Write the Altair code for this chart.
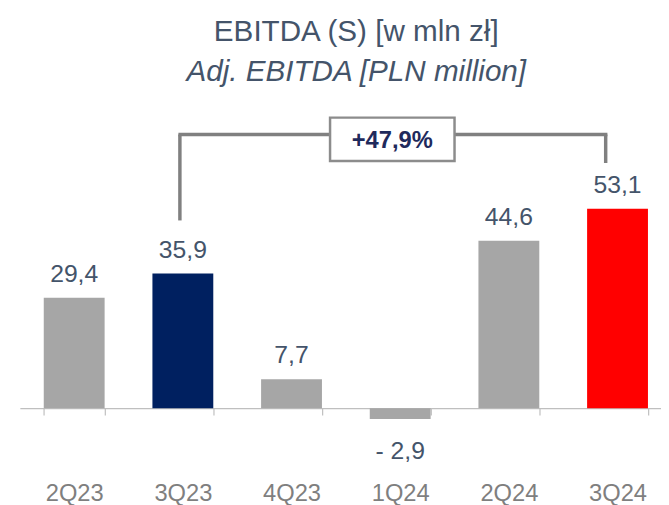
import altair as alt
import pandas as pd

# ---- data ----
categories = ["2Q23", "3Q23", "4Q23", "1Q24", "2Q24", "3Q24"]
values = [29.4, 35.9, 7.7, -2.9, 44.6, 53.1]
labels = ["29,4", "35,9", "7,7", "- 2,9", "44,6", "53,1"]
colors = ["#A6A6A6", "#002060", "#A6A6A6", "#A6A6A6", "#A6A6A6", "#FF0000"]

# growth bracket 3Q23 -> 3Q24
bracket_from = "3Q23"
bracket_to = "3Q24"
bracket_mid = "1Q24"
bracket_label = "+47,9%"
bracket_top = 72.9
bracket_left_end = 50.0
bracket_right_end = 65.3
box_level = 71.6

df = pd.DataFrame({"q": categories, "v": values, "lab": labels, "col": colors})
df_pos = df[df.v >= 0]
df_neg = df[df.v < 0]

FONT = "Liberation Sans"
TXT = "#44546A"

x_scale = alt.Scale(domain=categories, paddingInner=0.44, paddingOuter=0.17, align=0.647)
y_scale = alt.Scale(domain=[0, 81.58], nice=False, zero=False)

x_enc = alt.X("q:N", scale=x_scale, sort=categories,
              axis=alt.Axis(title=None, labelAngle=0, labelFontSize=24, labelFont=FONT,
                            labelColor="#7F7F7F", domainColor="#BFBFBF", domainWidth=1.2,
                            tickColor="#BFBFBF", tickWidth=1.2, tickSize=7, tickBand="extent",
                            labelBaseline="alphabetic", labelPadding=87))
y_enc = alt.Y("v:Q", scale=y_scale, axis=None)

base = alt.Chart(df)

bars = base.mark_bar().encode(x=x_enc, y=y_enc, y2=alt.datum(0),
                              color=alt.Color("col:N", scale=None))

lab_pos = alt.Chart(df_pos).mark_text(font=FONT, fontSize=25, color=TXT,
                                      baseline="alphabetic", dy=-16).encode(
    x=alt.X("q:N", scale=x_scale, sort=categories), y=y_enc, text="lab:N")
lab_neg = alt.Chart(df_neg).mark_text(font=FONT, fontSize=25, color=TXT,
                                      baseline="alphabetic", dy=40).encode(
    x=alt.X("q:N", scale=x_scale, sort=categories), y=y_enc, text="lab:N")

bdf = pd.DataFrame({"a": [bracket_from], "b": [bracket_to], "mid": [bracket_mid],
                    "top": [bracket_top], "le": [bracket_left_end], "re": [bracket_right_end],
                    "box": [box_level], "lab": [bracket_label]})
bc = alt.Chart(bdf)
LINE = "#808080"
xa = alt.X("a:N", scale=x_scale)
left_v = bc.mark_rule(color=LINE, strokeWidth=3.5, xOffset=-3).encode(
    x=xa, y=alt.Y("le:Q", scale=y_scale), y2="top:Q")
horiz = bc.mark_rule(color=LINE, strokeWidth=3.5, xOffset=-4.5, x2Offset=-10.25).encode(
    x=xa, x2=alt.X2("b:N"), y=alt.Y("top:Q", scale=y_scale))
right_v = bc.mark_rule(color=LINE, strokeWidth=3.5, xOffset=-12).encode(
    x=alt.X("b:N", scale=x_scale), y=alt.Y("re:Q", scale=y_scale), y2="top:Q")
box = bc.mark_point(shape="M-1,-0.349L1,-0.349L1,0.349L-1,0.349Z", size=15876, filled=False,
                    fill="white", fillOpacity=1, stroke="#8C8C8C", strokeWidth=2.5,
                    opacity=1, xOffset=-8).encode(
    x=alt.X("mid:N", scale=x_scale), y=alt.Y("box:Q", scale=y_scale))
box_txt = bc.mark_text(font=FONT, fontSize=24, fontWeight="bold", color="#1F2A5C",
                       baseline="middle", xOffset=-8, dy=2).encode(
    x=alt.X("mid:N", scale=x_scale), y=alt.Y("box:Q", scale=y_scale), text="lab:N")

chart = alt.layer(bars, lab_pos, lab_neg, left_v, horiz, right_v, box, box_txt).properties(
    width=649, height=310,
    padding={"left": 12, "top": 92, "right": 0, "bottom": 95},
    autosize=alt.AutoSizeParams(type="none"),
    title=alt.Title("EBITDA (S) [w mln zł]", subtitle="Adj. EBITDA [PLN million]",
                    font=FONT, fontSize=30, fontWeight="normal", color=TXT,
                    subtitleFont=FONT, subtitleFontSize=30, subtitleFontStyle="italic",
                    subtitleColor=TXT, subtitlePadding=11, anchor="middle", dx=16, offset=15)
).configure_view(stroke=None)

chart.save("out.html", embed_options={"renderer": "svg", "actions": False})
